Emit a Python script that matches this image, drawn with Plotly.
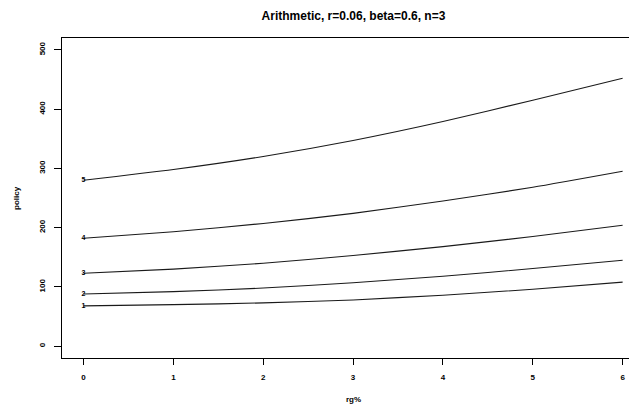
import plotly.graph_objects as go

# ---- data ----
rg = [0, 1, 2, 3, 4, 5, 6]
policy_1 = [68, 70, 73, 78, 86, 96, 108]
policy_2 = [88, 92, 98, 107, 118, 131, 145]
policy_3 = [123, 130, 140, 153, 168, 185, 204]
policy_4 = [182, 193, 207, 224, 245, 268, 295]
policy_5 = [280, 298, 320, 347, 379, 415, 452]
series_labels = ["1", "2", "3", "4", "5"]
x_ticks = [0, 1, 2, 3, 4, 5, 6]
y_ticks = [0, 100, 200, 300, 400, 500]

series = [policy_1, policy_2, policy_3, policy_4, policy_5]

FONT = "Liberation Sans"
INK = "#1a1a1a"

# the page body has an 8px default margin, so the figure is drawn 8px smaller
W, H = 629, 404
L, T, B = 54, 30, 54
PW = W - L
PH = H - T - B

fig = go.Figure()
for lab, vals in zip(series_labels, series):
    fig.add_trace(go.Scatter(
        x=rg, y=vals, mode="lines",
        line=dict(color=INK, width=1.1, shape="spline", smoothing=0.6),
        showlegend=False, hoverinfo="skip"))

# curve number labels at the start of each curve
fig.add_trace(go.Scatter(
    x=[rg[0]] * len(series), y=[s[0] for s in series],
    mode="text", text=series_labels, textposition="middle center",
    textfont=dict(family=FONT, size=7, color="black", weight="bold"),
    showlegend=False, hoverinfo="skip"))

fig.update_layout(
    width=W, height=H, autosize=False,
    margin=dict(l=L, r=0, t=T, b=B),
    paper_bgcolor="white", plot_bgcolor="white",
    title=dict(text="Arithmetic, r=0.06, beta=0.6, n=3",
               x=345.5 / W, xanchor="center", xref="container",
               y=1 - 8 / H, yanchor="middle", yref="container",
               font=dict(family=FONT, size=12, color="black", weight="bold")),
    font=dict(family=FONT, color="black"),
)

fig.update_xaxes(
    range=[-0.24, 6.16], tickvals=x_ticks, ticktext=[str(v) for v in x_ticks],
    showline=True, mirror=True, linecolor="black", linewidth=1,
    ticks="outside", ticklen=6, tickwidth=1, tickcolor="black",
    ticklabelstandoff=5,
    tickfont=dict(family=FONT, size=8, color="black", weight="bold"),
    showgrid=False, zeroline=False)

fig.update_yaxes(
    range=[-20, 520], tickvals=y_ticks, ticktext=[str(v) for v in y_ticks],
    showline=True, mirror=False, linecolor="black", linewidth=1,
    ticks="outside", ticklen=7, tickwidth=1, tickcolor="black",
    tickangle=-90, ticklabelstandoff=6,
    tickfont=dict(family=FONT, size=8, color="black", weight="bold"),
    showgrid=False, zeroline=False)

# axis titles
fig.add_annotation(text="rg%", x=(353.5 - 62) / 575, xref="paper", xanchor="center",
                   y=-(391 - (T + PH)) / PH, yref="paper", yanchor="middle",
                   showarrow=False,
                   font=dict(family=FONT, size=8, color="black", weight="bold"))
fig.add_annotation(text="policy", x=-(L - 8) / PW, xref="paper", xanchor="center",
                   y=0.5, yref="paper", yanchor="middle", textangle=-90,
                   showarrow=False,
                   font=dict(family=FONT, size=8, color="black", weight="bold"))

fig.write_html("out.html")
